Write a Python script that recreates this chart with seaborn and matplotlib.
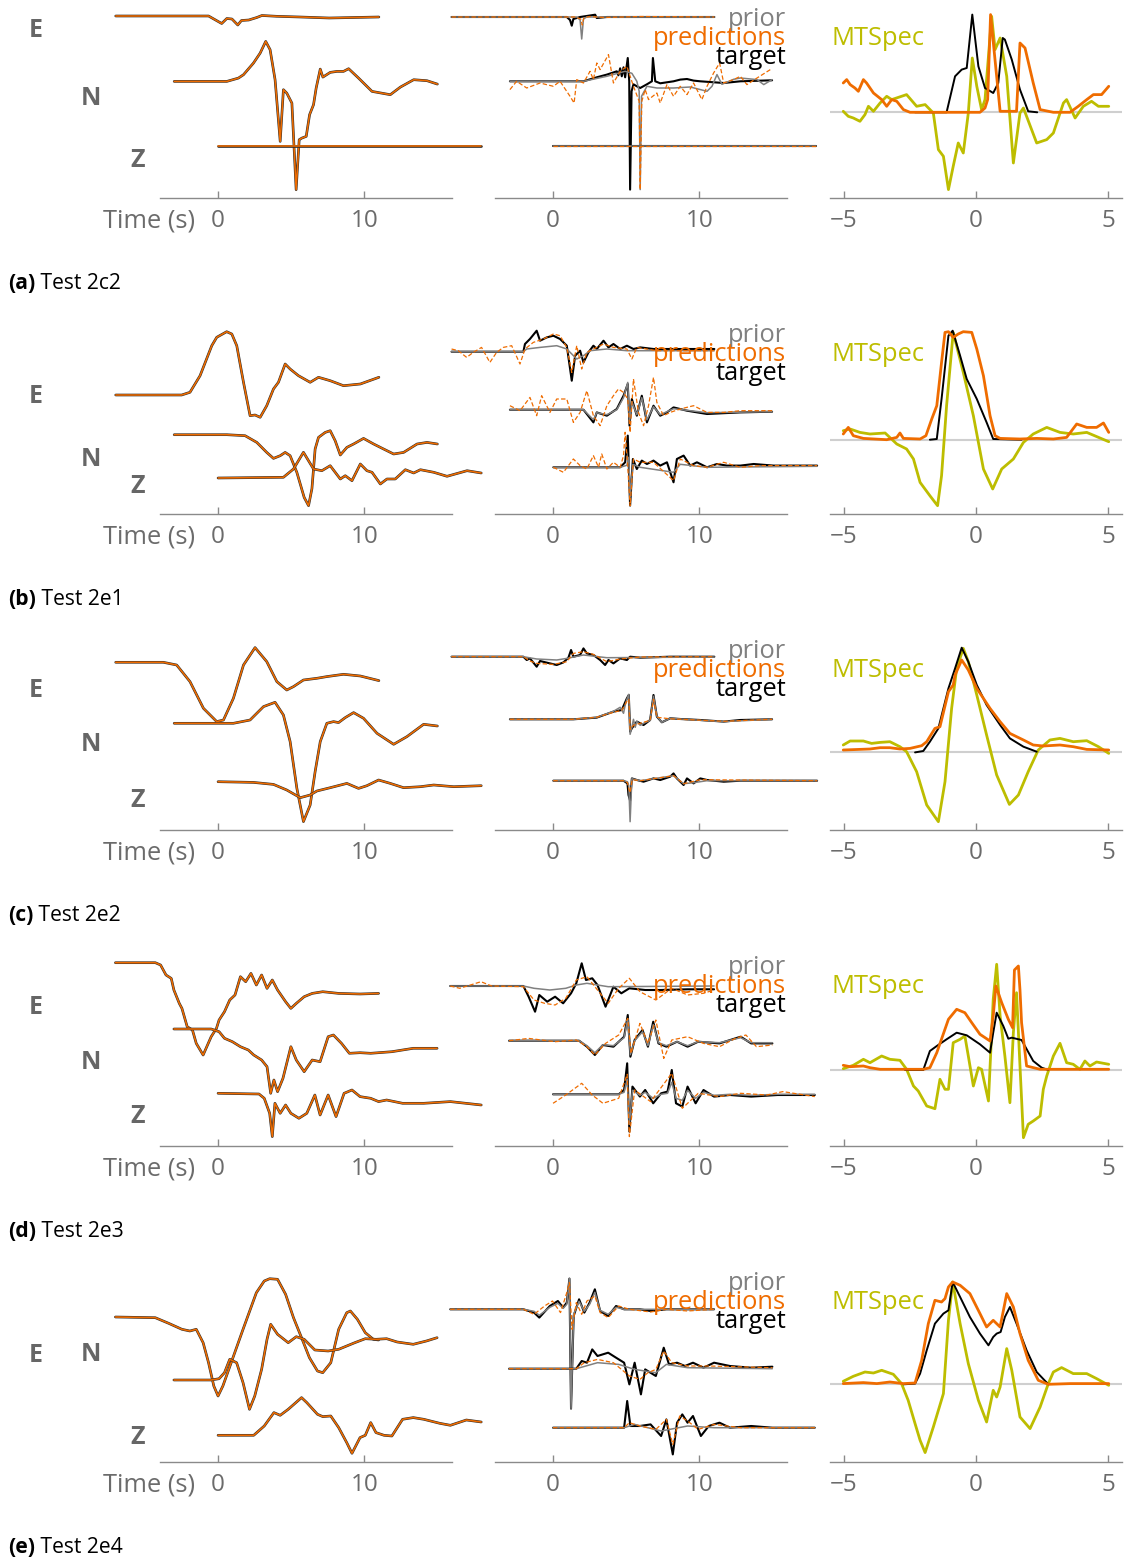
import numpy as np
import matplotlib
matplotlib.use("Agg")
import matplotlib.pyplot as plt
from matplotlib.transforms import blended_transform_factory
import seaborn as sns

# ---------------------------------------------------------------------------
# Waveforms: (time in s, amplitude) pairs. Amplitudes are relative to each
# trace's own zero line; the stacking offsets are kept separately below.
# ---------------------------------------------------------------------------
captions = ["Test 2c2", "Test 2e1", "Test 2e2", "Test 2e3", "Test 2e4"]
components = ["E", "N", "Z"]

# ----- (a) Test 2c2 -----
a_wave_E = [(-7.0, 0), (-0.65, 0), (0.25, -7.5), (0.6, -2.5), (0.95, -3), (1.35, -9), (1.6, -4.5), (2.1, -4),
            (2.65, -1.5), (3.0, 0.5), (4.0, -0.3), (5.6, -1), (7.6, -2), (11.0, -1)]
a_wave_N = [(-3.0, 0), (0.6, 0), (1.39, 3.3), (1.74, 6.7), (2.42, 18.3), (2.88, 28.3), (3.26, 40), (3.56, 31.7),
            (3.9, 1.7), (4.25, -60), (4.47, -8.3), (4.7, -11.7), (5.05, -21.7), (5.34, -108.3), (5.55, -58.3),
            (5.73, -56.7), (6.03, -55), (6.26, -33.3), (6.53, -23.3), (6.71, -6.7), (6.99, 12.3), (7.17, 4.3),
            (7.67, 9), (8.13, 10), (8.58, 10), (8.93, 12.7), (9.61, 3.3), (10.53, -10), (11.78, -13.3),
            (12.47, -5.7), (13.38, 1.7), (14.29, 0.7), (15.0, -2.7)]
a_wave_Z = [(0, 0), (6, 0), (12, 0), (18, 0)]

a_target_E = [(-6.94, 0), (0.94, 0), (1.16, -3), (1.28, -8.7), (1.39, -2), (1.85, 0), (2.88, 2.3), (2.99, -1),
              (3.68, 0), (11.03, 0)]
a_prior_E = [(-6.94, 0), (1.62, 0), (1.85, -3), (1.96, -22), (2.08, -2), (2.3, 0), (11.03, 0)]
a_pred_E = [(-6.94, 0), (1.5, 0), (1.9, -2), (2.0, -8), (2.1, -1), (2.5, 0.5), (3.5, -0.5), (6.0, 0.5), (11.03, 0)]
a_target_N = [(-2.95, 0), (2.08, 0), (2.99, 4), (3.68, 6.7), (4.36, 10), (4.47, 6), (4.59, 13), (4.7, 5),
              (4.82, 14), (4.93, 4), (5.11, 23.3), (5.21, 0), (5.27, -108.3), (5.37, -10), (5.5, -3), (5.73, -5),
              (5.96, -6.7), (6.42, -3), (6.76, 0), (6.83, 23.3), (6.99, 0), (7.33, -2), (8.24, 0), (8.7, 1.7),
              (9.16, 2.3), (9.61, 0.7), (10.07, 0), (11.67, -1.7), (12.81, 0), (14.98, 1)]
a_prior_N = [(-2.95, 0), (2.08, 0), (3.68, 5), (4.93, 10), (5.39, 8), (5.73, 0), (5.89, -10), (5.96, -108.3),
             (6.05, -15), (6.42, -5), (7.1, -6.7), (8.24, -6.7), (9.38, -5.7), (10.53, -10), (10.87, -5),
             (11.21, 6.7), (11.55, -3), (12.35, 2), (12.81, 3.3), (13.95, 1.7), (14.41, -3.3), (14.98, 1.7)]
a_pred_N = [(-2.95, -8.3), (-2.49, 0), (-1.8, -6.7), (-0.89, -1.7), (0.02, -5), (0.48, 0), (1.16, -15),
            (1.44, -21.7), (1.62, 1.7), (2.08, -1.7), (2.53, 10), (2.76, 1.7), (2.99, 18.3), (3.22, 11.7),
            (3.79, 26.7), (4.13, -1.7), (4.59, 10), (5.05, 15), (5.5, -5), (5.89, -20), (5.96, -108.3),
            (6.07, -20), (6.3, -8.3), (6.53, -18.3), (7.1, -11.7), (7.33, -21.7), (7.79, -3.3), (8.24, -15),
            (8.7, -5), (9.16, -13.3), (9.61, -1.7), (10.18, -18.3), (10.53, -5), (10.98, 8.3), (11.39, 18.3),
            (11.67, -1.7), (12.35, 1.7), (12.81, 5), (13.26, -3.3), (13.95, 3.3), (14.86, 11.7)]
a_target_Z = [(0, 0), (18, 0)]
a_prior_Z = [(0, 0), (18, 0)]
a_pred_Z = [(0, 0), (18, 0)]

a_stf_target = [(-2.3, 0), (-1.11, 0), (-0.79, 36), (-0.54, 42.7), (-0.35, 44.3), (-0.14, 97.7), (0.09, 46),
                (0.34, 24.3), (0.65, 19.3), (0.84, 29.3), (1.01, 74.3), (1.09, 72.7), (1.35, 52.7), (1.66, 22.7),
                (1.97, 1), (2.31, 0)]
a_stf_pred = [(-5.01, 29.3), (-4.88, 32.7), (-4.75, 27.7), (-4.57, 24.3), (-4.44, 21), (-4.25, 32.7),
              (-4.13, 29.3), (-3.87, 19.3), (-3.56, 12.7), (-3.37, 6), (-3.18, 12.7), (-2.99, 11), (-2.74, 2.7),
              (-2.49, 0), (0.15, 0), (0.34, 4.3), (0.44, 12.7), (0.55, 97.7), (0.68, 62.7), (0.91, 1), (1.53, 1),
              (1.66, 69.3), (1.85, 64.3), (2.16, 29.3), (2.42, 2.7), (2.92, 0), (3.55, 0), (3.86, 6), (4.18, 12.7),
              (4.43, 17.7), (4.74, 17.7), (5.01, 26)]
a_stf_mtspec = [(-5.01, 1), (-4.82, -4), (-4.63, -5.7), (-4.38, -9), (-4.19, -2.3), (-4.06, 6), (-3.87, 1),
                (-3.62, 9.3), (-3.37, 16), (-3.18, 12.7), (-2.62, 17.7), (-2.24, 6), (-1.92, 7.7), (-1.61, -0.7),
                (-1.42, -37.3), (-1.23, -44), (-1.04, -77.3), (-0.86, -54), (-0.67, -30.7), (-0.48, -40.7),
                (-0.29, -0.7), (-0.14, 54.3), (0.03, 26), (0.21, 2.7), (0.34, 12.7), (0.59, 96), (0.72, 62.7),
                (0.91, 74.3), (1.16, 36), (1.41, -50.7), (1.66, -0.7), (1.79, 4.3), (2.29, -30.7), (2.67, -27.3),
                (2.92, -20.7), (3.3, 9.3), (3.42, 12.7), (3.74, -5.7), (4.05, 6), (4.36, 11), (4.62, 6), (5.01, 6)]

# ----- (b) Test 2e1 -----
b_wave_E = [(-7.0, 0), (-2.49, 0), (-1.92, 2.7), (-1.23, 19.3), (-0.43, 49.3), (-0.09, 57.7), (0.59, 63.3),
            (0.94, 61), (1.28, 49.3), (1.74, 12.7), (2.19, -20.7), (2.53, -20), (2.88, -22.3), (3.33, -10.7),
            (3.79, 6), (4.13, 12.7), (4.59, 31), (4.93, 26), (5.5, 19.3), (6.3, 12.7), (6.87, 17.7), (7.67, 14.3),
            (8.58, 9.3), (9.73, 11), (11.0, 17.7)]
b_wave_N = [(-3.0, 0), (0.6, 0), (1.85, -1), (2.65, -7.7), (3.33, -17.7), (3.79, -23.7), (4.25, -21),
            (4.59, -17.7), (4.93, -21), (5.39, -37.7), (5.89, -62.7), (6.19, -71), (6.42, -54), (6.64, -14.3),
            (6.87, -2.7), (7.33, 2.3), (7.67, 4), (8.01, -6), (8.36, -20.3), (8.81, -12.7), (9.27, -9.3),
            (9.95, -3.7), (10.64, -9.3), (11.32, -14.3), (12.01, -19.3), (12.69, -17.7), (13.61, -9.3),
            (14.29, -7.7), (15.0, -9.3)]
b_wave_Z = [(0, 0), (4.47, 0.7), (5.16, 9), (5.84, 25.7), (6.53, 9), (7.1, 7.3), (7.67, 12.3), (8.36, -1),
            (8.7, 2.3), (9.16, -2.7), (9.73, 14), (10.18, 7.3), (10.53, 5.7), (11.1, -6), (11.55, -1),
            (12.12, -1), (12.81, 8.3), (13.38, 5), (13.84, 8.3), (14.75, 5.7), (15.66, 1.7), (17.03, 7.3),
            (18.0, 5)]

b_target_E = [(-6.94, 0), (-2.03, 0), (-1.92, 7.7), (-1.58, 12.7), (-1.12, 21), (-0.89, 11), (-0.43, 14.3),
              (0.02, 16), (0.48, 12.7), (0.94, 6), (1.28, -29), (1.51, -4), (1.85, 1), (2.08, -10.7),
              (2.42, -0.7), (2.76, 6), (2.99, 2.7), (3.45, 11), (3.79, 4.3), (4.13, 7.7), (4.59, 2.7), (5.05, 6),
              (5.5, 2.7), (5.96, 4.3), (6.87, 2.7), (8.24, 2.7), (11.03, 2.7)]
b_prior_E = [(-6.94, 0), (-2.03, 0), (-1.8, 2.7), (-0.89, 4.3), (0.25, 6), (0.94, 2.7), (1.62, -7.3), (2.08, -4),
             (2.53, 1), (3.68, 2.7), (5.05, 1), (11.03, 1)]
b_pred_E = [(-6.94, 2.7), (-6.48, 1), (-5.91, -5.7), (-5.46, -0.7), (-4.89, 4.3), (-4.32, -10.7), (-3.86, -0.7),
            (-3.4, 4.3), (-2.83, 6), (-2.26, -12.3), (-1.92, 2.7), (-1.35, 9.3), (-0.66, 12.7), (0.02, 17.7),
            (0.48, 16), (0.94, 4.3), (1.28, -20.7), (1.62, 6), (1.96, -17.3), (2.31, -0.7), (2.76, 2.7),
            (3.45, 7.7), (4.13, 4.3), (5.05, 2.7), (5.39, -7.3), (5.73, 4.3), (7.1, 1), (11.03, 1)]
b_target_N = [(-2.95, 0), (2.08, 0), (2.76, -12.7), (2.99, -2.7), (3.68, -6), (4.36, 0.7), (4.82, 14),
              (5.11, 25.7), (5.23, -16), (5.39, 10.7), (5.73, -6), (6.07, 14), (6.42, -12.7), (6.87, 4),
              (7.33, -6), (7.79, -2.7), (8.24, 2.3), (9.16, -1), (10.53, -4.3), (12.81, -2.7), (14.98, -2)]
b_prior_N = [(-2.95, 0), (2.08, 0), (2.76, -10), (2.99, -3), (3.68, -5), (4.36, 0), (4.82, 12), (5.11, 27.3),
             (5.23, -12), (5.39, 8), (5.73, -5), (6.07, 12), (6.42, -10), (6.87, 3), (7.33, -5), (8.24, 1),
             (10.53, -3), (14.98, -2)]
b_pred_N = [(-2.95, 4), (-2.26, -1), (-1.58, 12.3), (-1.12, -6), (-0.78, 14), (-0.21, -2.7), (0.25, 10.7),
            (0.94, 10.7), (1.39, -12.7), (1.85, -2.7), (2.31, 19), (2.76, -6), (3.22, -16), (3.68, 4), (4.13, 14),
            (4.47, 20.7), (4.82, 17.3), (5.11, 10.7), (5.27, -22.7), (5.5, 30.7), (5.84, -2.7), (6.19, -16),
            (6.53, 4), (6.87, 32.3), (7.1, 7.3), (7.56, -6), (8.01, -2.7), (8.7, 0.7), (9.61, 4), (10.53, -2.7),
            (11.67, -2.7), (12.81, -1), (14.98, -1)]
b_target_Z = [(0.02, 0), (4.59, 0), (4.93, 5), (5.11, 31.7), (5.27, -38.3), (5.46, 8.3), (5.73, -1.7),
              (6.07, 6.7), (6.42, 3.3), (6.87, 6.7), (7.33, 1.7), (7.79, 5), (8.24, -15), (8.47, 8.3),
              (8.93, 11.7), (9.38, 1.7), (9.84, 5), (10.53, 0), (11.21, 3.3), (11.89, 1.7), (12.81, 1.7),
              (13.72, 3.3), (15.09, 1.7), (18.06, 1.7)]
b_prior_Z = [(0.02, 0), (4.59, 0), (5.05, 2), (5.18, 10), (5.27, -30), (5.46, 3), (5.96, 0), (8.24, -5),
             (8.7, 3), (10.53, 0), (18.06, 1)]
b_pred_Z = [(0.02, 0), (0.71, -5), (1.39, 8.3), (1.85, 1.7), (2.31, -1.7), (2.76, 11.7), (3.11, 0), (3.33, 13.3),
            (3.68, -1.7), (4.13, 5), (4.59, 0), (4.82, 11.7), (4.93, 35), (5.09, 5), (5.27, -38.3), (5.5, 8.3),
            (5.96, 5), (6.87, 5), (8.24, -13.3), (8.7, 8.3), (9.61, 1.7), (10.53, 0), (11.67, 5), (12.81, 0),
            (14.18, 1.7), (18.06, 1.7)]

b_stf_target = [(-1.74, 0), (-1.48, 0.7), (-1.3, 40.7), (-1.04, 104), (-0.88, 109), (-0.6, 84), (-0.35, 60.7),
                (0.03, 40.7), (0.4, 17.3), (0.65, 0.7), (1.72, 0)]
b_stf_pred = [(-5.01, 5.7), (-4.82, 12.3), (-4.63, 4), (-4.25, 1.3), (-3.37, 0), (-2.99, 2.3), (-2.87, 6.7),
              (-2.74, 1.3), (-2.11, 0.7), (-1.89, 4), (-1.67, 20.7), (-1.48, 34), (-1.3, 77.3), (-1.17, 107.3),
              (-1.04, 108), (-0.86, 102.3), (-0.67, 105.7), (-0.48, 108), (-0.16, 107.3), (0.03, 90.7),
              (0.28, 64), (0.53, 24), (0.72, 4), (0.91, 1.3), (1.66, 0.7), (2.29, 1.3), (2.92, 0.7), (3.42, 2.3),
              (3.8, 15.7), (4.18, 12.3), (4.55, 12.3), (4.81, 16.7), (5.01, 7.3)]
b_stf_mtspec = [(-5.01, 9), (-4.75, 10.7), (-4.38, 7.3), (-4.0, 5.7), (-3.43, 6.7), (-2.99, -4.3), (-2.62, -9.3),
                (-2.36, -19.3), (-2.11, -42.7), (-1.74, -56), (-1.45, -66), (-1.3, -36), (-1.11, 34),
                (-0.86, 107.3), (-0.48, 67.3), (-0.1, 24), (0.28, -29.3), (0.63, -49.3), (0.97, -29.3),
                (1.41, -19.3), (1.79, -2.7), (2.16, 5.7), (2.67, 12.3), (3.17, 7.3), (3.67, 5.7), (4.18, 7.3),
                (5.01, -2)]

# ----- (c) Test 2e2 -----
c_wave_E = [(-7.0, 0), (-3.74, 0), (-2.83, -2.7), (-1.92, -19.3), (-1.0, -46), (-0.09, -59.3), (0.37, -57.7),
            (1.05, -36), (1.74, -2.7), (2.53, 14.7), (3.33, 0.7), (4.02, -19.3), (4.7, -27.7), (5.16, -24.3),
            (5.84, -17.7), (6.76, -16), (7.44, -14.3), (8.58, -12), (9.73, -13.7), (11.0, -18.3)]
c_wave_N = [(-3.0, 0), (1.05, 0), (2.19, 3.3), (3.11, 16.7), (3.9, 21), (4.47, 8.3), (4.93, -18.3), (5.39, -65),
            (5.84, -98.3), (6.3, -81.7), (6.64, -48.3), (6.99, -18.3), (7.44, 0), (7.9, 1.7), (8.24, 0.7),
            (8.7, 5.7), (9.27, 10.7), (9.95, 5), (10.87, -10), (12.01, -21), (12.92, -13.3), (14.06, -1),
            (15.0, -2.7)]
c_wave_Z = [(0, 0), (2.42, -0.7), (3.79, -2.7), (4.7, -8.3), (5.62, -16), (6.3, -13.3), (6.76, -9.3),
            (7.67, -6), (8.81, -1.7), (9.61, -6.7), (10.18, -4), (10.98, 1.7), (11.78, -1.7), (12.69, -6),
            (13.84, -5), (14.75, -3.3), (16.12, -5), (18.0, -4)]

c_target_E = [(-6.94, 0), (-2.03, 0), (-1.8, -3.3), (-1.58, -1.7), (-1.12, -10), (-0.89, -4.3), (-0.21, -6.7),
              (0.25, -8.3), (0.71, -5.7), (1.05, -1), (1.23, 6.7), (1.39, 0), (1.85, 1.7), (2.08, 8.3),
              (2.31, 3.3), (2.76, 1.7), (3.22, -3.3), (3.56, -8.3), (3.79, -3.3), (4.13, -6.7), (4.59, -1.7),
              (5.05, -3.3), (5.27, 0), (5.96, -1), (8.01, 0), (11.03, 0)]
c_prior_E = [(-6.94, 0), (-2.03, 0), (-1.12, -2.3), (0.25, -3.3), (0.94, -1.7), (2.08, 1.7), (3.68, -1),
             (11.03, -0.3)]
c_pred_E = [(-6.94, 0), (-2.03, 0), (-1.58, -4.3), (-1.12, -6.7), (0.02, -7.7), (0.94, -5), (1.39, 3.3),
            (2.08, 5), (2.76, 2.3), (3.68, -5), (4.59, -2.3), (5.96, -0.3), (11.03, 0)]
c_target_N = [(-2.95, 0), (1.39, 0), (2.99, 1.7), (4.13, 7.7), (4.7, 9.3), (5.05, 21), (5.18, 24.3),
              (5.27, -12.3), (5.39, -9), (5.73, -2.3), (6.19, -5.7), (6.64, -0.7), (6.87, 24.3), (7.1, 2.7),
              (7.44, -3), (8.01, 1), (8.7, 0.3), (10.07, -0.7), (11.67, -2.3), (12.81, -0.7), (14.98, 0)]
c_prior_N = [(-2.95, 0), (1.39, 0), (2.99, 2), (4.13, 8), (4.59, 12), (4.82, 6), (4.93, 14), (5.05, 20),
             (5.18, 25), (5.27, -15), (5.39, -8), (5.5, 0), (5.62, -8), (5.73, -2), (5.96, -6), (6.19, -4),
             (6.64, -1), (6.87, 23), (7.1, 3), (7.44, -3), (8.01, 1), (10.07, -1), (11.67, -2.3), (14.98, 0)]
c_pred_N = [(-2.95, 0), (1.39, 0), (2.99, 2), (4.13, 7), (4.7, 9), (5.05, 18), (5.18, 20), (5.27, -10),
            (5.5, -6), (5.96, -4), (6.64, -1), (6.87, 20), (7.1, 2), (8.01, 0.5), (11.67, -2), (14.98, 0)]
c_target_Z = [(0.02, 0), (4.82, 0), (5.09, -2.7), (5.16, -14.3), (5.27, -20), (5.39, 2.3), (5.73, 0.7),
              (6.19, -1), (6.87, 2.3), (7.33, 0.7), (8.01, 4), (8.24, 7.3), (8.47, 2.3), (8.93, -4.3),
              (9.16, 2.3), (9.61, -2.7), (10.07, 2.3), (10.53, 0.7), (11.67, -1), (12.81, 0), (18.06, 0)]
c_prior_Z = [(0.02, 0), (4.82, 0), (5.09, -1), (5.18, -5), (5.27, -41), (5.39, 2), (5.96, 0), (8.24, 5),
             (8.93, -3), (9.61, -2), (10.53, 0), (18.06, 0)]
c_pred_Z = [(0.02, 0), (4.82, 0), (5.09, -2), (5.18, -8), (5.27, -12), (5.41, 1), (5.96, 0), (8.24, 5),
            (8.93, -3), (10.07, 1), (18.06, 0)]

c_stf_target = [(-2.3, -0.7), (-1.99, 0.7), (-1.74, 10), (-1.42, 23.3), (-1.04, 63.3), (-0.79, 83.3),
                (-0.54, 104), (-0.29, 90), (0.03, 66.7), (0.4, 46.7), (0.91, 26.7), (1.28, 13.3), (1.79, 5),
                (2.29, 0)]
c_stf_pred = [(-5.01, 1.7), (-4.0, 2.7), (-3.62, 4), (-3.25, 4), (-2.87, 2.7), (-2.49, 3.3), (-2.05, 6),
              (-1.86, 10), (-1.55, 23.3), (-1.36, 25), (-1.04, 60), (-0.86, 66.7), (-0.79, 76.7), (-0.54, 91.7),
              (-0.29, 81.7), (0.03, 63.3), (0.53, 43.3), (0.91, 30), (1.28, 18.3), (1.79, 11.7), (2.16, 6.7),
              (2.54, 5.7), (3.17, 6.7), (3.67, 5), (4.18, 2.3), (5.01, 1.7)]
c_stf_mtspec = [(-5.01, 6.7), (-4.75, 10.7), (-4.25, 10.7), (-3.94, 8.3), (-3.62, 9.3), (-3.25, 10), (-2.87, 5),
                (-2.62, 0), (-2.24, -20), (-1.86, -53.3), (-1.42, -70), (-1.17, -30), (-0.92, 43.3),
                (-0.73, 83.3), (-0.48, 103.3), (-0.29, 90), (0.03, 56.7), (0.4, 16.7), (0.78, -23.3),
                (1.26, -52.7), (1.6, -43.3), (1.97, -20), (2.35, 1.7), (2.79, 11.7), (3.17, 13.3), (3.67, 10),
                (4.18, 11), (4.62, 5), (5.01, -1.7)]

# ----- (d) Test 2e3 -----
d_wave_E = [(-7.02, 0), (-4.29, 0), (-3.93, -2.3), (-3.56, -12.3), (-3.2, -15.7), (-3.02, -27.3), (-2.65, -40.7),
            (-2.47, -45.7), (-2.11, -64), (-1.75, -67.3), (-1.49, -80.7), (-1.02, -92.3), (-0.47, -74),
            (-0.11, -65.7), (0.07, -57.3), (0.44, -49), (0.8, -37.3), (1.16, -32.3), (1.53, -14), (1.89, -19),
            (2.25, -10.7), (2.62, -22.3), (2.98, -12.3), (3.35, -25.7), (3.71, -17.3), (4.07, -27.3), (4.62, -39),
            (4.98, -45.7), (5.35, -40.7), (5.89, -34), (6.44, -30.7), (7.16, -29), (8.25, -30.7), (9.71, -31.3),
            (10.98, -30.7)]
d_wave_N = [(-3.02, 0), (-0.47, 0), (0.07, -2.7), (0.44, -9.3), (0.98, -12.7), (1.53, -17.7), (2.07, -21),
            (2.44, -26), (2.98, -31), (3.35, -37.7), (3.6, -64.3), (3.82, -51), (4.07, -62.7), (4.44, -49.3),
            (4.98, -17.7), (5.35, -31), (5.89, -42.7), (6.44, -31), (6.98, -32.7), (7.53, -7.7), (7.89, -6),
            (8.44, -14.3), (8.98, -24.3), (9.71, -23.7), (10.44, -24.3), (11.89, -22.7), (13.35, -19.3),
            (14.98, -19.3)]
d_wave_Z = [(0, 0), (2.8, -0.7), (3.16, -5), (3.53, -20), (3.71, -43.3), (3.89, -10), (4.25, -20), (4.62, -11.7),
            (4.98, -20), (5.53, -25), (6.07, -20), (6.62, -1.7), (6.98, -21.7), (7.53, -1.7), (8.07, -23.3),
            (8.62, 0), (9.16, 3.3), (9.71, -3.3), (10.44, -5), (10.98, -8.3), (11.53, -6.7), (12.62, -10),
            (14.07, -10), (15.89, -8.3), (18.0, -11.7)]

d_target_E = [(-7.03, 0), (-2.03, 0), (-1.67, -10.7), (-1.23, -25.7), (-0.94, -9), (-0.4, -15.7), (0.14, -10.7),
              (0.69, -17.3), (1.23, -7.3), (1.59, 2.7), (1.96, 22.7), (2.25, 6), (2.68, 7.7), (3.04, 1),
              (3.59, -20.7), (4.13, -0.7), (4.67, -7.3), (5.22, -2.3), (6.3, -4), (7.39, -4), (9.2, -3.3),
              (11.01, -3.3)]
d_prior_E = [(-7.03, 0), (-2.03, 0), (-1.3, -2.3), (-0.22, -4), (0.87, -2.3), (1.59, 1), (2.32, 2.7),
             (3.77, -0.7), (11.01, 0)]
d_pred_E = [(-7.03, 0), (-6.38, -2.3), (-5.65, 1), (-4.93, 4.3), (-4.2, 0), (-2.03, -0.7), (-1.3, -14),
            (-0.58, -17.3), (0.14, -19), (0.87, -12.3), (1.59, 6), (2.32, 9.3), (3.04, -4), (3.77, -17.3),
            (4.49, -2.3), (5.22, 7.7), (5.94, -5.7), (7.03, -14), (8.12, -2.3), (9.2, -9), (10.29, -7.3),
            (11.01, -4)]
d_target_N = [(-3.01, 0), (1.78, 0), (2.32, -6), (2.86, -14.3), (3.41, -4.3), (4.13, -6), (4.86, 4), (5.11, 25.7),
              (5.29, -16), (5.58, 0.7), (6.12, 10.7), (6.49, -6), (6.85, 19), (7.21, -2.7), (7.75, -6),
              (8.48, -1), (9.2, -6), (9.93, -1), (11.38, -2.7), (12.83, 4), (13.55, -2.7), (15.0, -2.7)]
d_prior_N = [(-3.01, 0), (1.78, 0), (2.32, -5), (2.86, -12), (3.41, -4), (4.13, -5), (4.86, 3), (5.11, 22),
             (5.29, -14), (5.58, 0), (6.12, 9), (6.49, -5), (6.85, 16), (7.21, -2), (7.75, -5), (8.48, -1),
             (9.2, -5), (9.93, -1), (11.38, -2), (12.83, 3), (13.55, -2), (15.0, -2)]
d_pred_N = [(-3.01, 0), (-1.67, 2.3), (0.14, -1), (1.59, 0.7), (2.32, -6), (2.86, -14.3), (3.59, -2.7),
            (4.49, 5.7), (5.11, 22.3), (5.33, -12.7), (5.94, 17.3), (6.49, -2.7), (7.03, 20.7), (7.57, -17.7),
            (8.12, 0.7), (9.2, 4), (10.29, -2.7), (11.38, -6), (12.46, 2.3), (13.19, 5.7), (13.91, -6),
            (15.0, -4.3)]
d_target_Z = [(0, 0), (4.49, 0), (4.86, 4.3), (5.07, 31), (5.22, -37.3), (5.43, 7.7), (5.94, -2.3), (6.3, 4.3),
              (6.85, -9), (7.39, 1), (7.83, 2.7), (8.12, 24.3), (8.41, -9), (8.84, -12.3), (9.2, 7.7),
              (9.75, -9), (10.29, 4.3), (11.01, -2.3), (12.1, -0.7), (13.55, -2.3), (15.36, -0.7), (17.9, -0.7)]
d_prior_Z = [(0, 0), (4.49, 0), (4.86, 2), (5.07, 15), (5.22, -30), (5.43, 4), (5.94, -1), (6.3, 2), (6.85, -4),
             (7.39, 0), (7.83, 1), (8.12, 12), (8.41, -4), (8.84, -6), (9.2, 4), (9.75, -4), (10.29, 2),
             (11.01, -1), (12.1, 0), (13.55, -1), (15.36, 0), (17.9, 0)]
d_pred_Z = [(0, -9), (0.87, -0.7), (1.96, 11), (2.68, -0.7), (3.41, -9), (4.49, -4), (5.07, 20), (5.22, -42.3),
            (5.58, 4.3), (6.67, -7.3), (8.12, 21), (8.84, -14), (9.93, 1), (11.38, -2.3), (12.83, 1),
            (14.64, -0.7), (15.72, 2.7), (17.9, -2.3)]

d_stf_target = [(-2.68, 0), (-1.99, 0), (-1.74, 19), (-1.48, 24), (-1.11, 30.7), (-0.73, 37.3), (-0.35, 34.7),
                (0.15, 25.7), (0.53, 17.3), (0.65, 37.3), (0.78, 57.3), (1.03, 44), (1.22, 31.3), (1.35, 32.3),
                (1.72, 30), (2.16, 9), (2.48, 2.3), (2.73, 0)]
d_stf_pred = [(-5.01, 4.7), (-4.75, 3.3), (-4.25, 4), (-4.0, 2.3), (-3.62, 0.7), (-1.99, 0.7), (-1.74, 2.3),
              (-1.48, 17.3), (-1.04, 50.7), (-0.73, 60.7), (-0.42, 57.3), (-0.16, 47.3), (0.15, 35.7),
              (0.53, 29), (0.65, 54), (0.75, 84), (0.97, 67.3), (1.22, 50.7), (1.38, 42.3), (1.45, 100),
              (1.6, 104), (1.66, 80), (1.72, 47.3), (1.91, 4), (2.42, 0.7), (5.01, 0.7)]
d_stf_mtspec = [(-5.01, 1.3), (-4.63, 4.7), (-4.25, 10.7), (-4.0, 7.3), (-3.56, 14), (-3.25, 10.7), (-2.87, 9.7),
                (-2.62, 0.7), (-2.36, -16), (-2.18, -21), (-1.86, -36), (-1.55, -38.7), (-1.36, -9.3),
                (-1.17, -19.3), (-1.04, -19.3), (-0.86, 27.3), (-0.6, 30.7), (-0.42, 34), (-0.29, 14),
                (-0.1, -16), (0.09, 2.3), (0.21, 0.7), (0.47, -31), (0.65, 70.7), (0.78, 105.7), (0.91, 54),
                (1.09, 14), (1.28, -32.7), (1.41, 37.3), (1.53, 77.3), (1.66, 4), (1.79, -67.7), (1.97, -54.3),
                (2.16, -51), (2.42, -46), (2.54, -19.3), (2.67, -6), (2.92, 14), (3.17, 26.7), (3.42, 7.3),
                (3.67, 5.7), (3.92, 0.7), (4.11, 9), (4.3, 4), (4.55, 8), (5.01, 5.7)]

# ----- (e) Test 2e4 -----
e_wave_E = [(-7.02, 0), (-4.29, -0.7), (-3.38, -6.3), (-2.47, -12.3), (-1.93, -14), (-1.49, -12.3),
            (-1.02, -25.7), (-0.65, -45.7), (-0.29, -69), (0, -79), (0.33, -69), (0.98, -42.3), (1.71, -12.3),
            (2.62, 24.3), (3.16, 36), (3.53, 38.3), (4.07, 37.7), (4.62, 22.7), (5.16, -0.7), (5.71, -20.7),
            (6.25, -40.7), (6.8, -54), (7.16, -55.7), (7.71, -45.7), (8.25, -12.3), (8.8, 4.3), (9.05, 6),
            (9.53, -2.3), (10.07, -15.7), (10.62, -22.3), (10.98, -23)]
e_wave_N = [(-3.02, 0), (-0.47, 0), (0.07, 1.3), (0.44, 7.3), (0.8, 20.7), (1.27, 17.3), (1.71, -2.7),
            (2.15, -29.3), (2.51, -16), (2.98, 10.7), (3.35, 40.7), (3.6, 55.7), (4.07, 45.7), (4.8, 37.3),
            (5.35, 43.3), (5.89, 40.7), (6.62, 30), (7.53, 29), (8.25, 30.7), (9.35, 37.3), (10.07, 41.3),
            (10.8, 40.7), (11.53, 41.3), (12.25, 38), (13.35, 35.7), (14.25, 39), (14.98, 42.3)]
e_wave_Z = [(0, 0), (2.44, 0), (3.16, 9.3), (3.82, 22.7), (4.25, 20), (4.8, 26), (5.71, 37.7), (6.07, 32.7),
            (6.8, 21), (7.16, 18.7), (7.71, 19.3), (8.25, 7.7), (8.8, -7.3), (9.16, -18), (9.71, -2.3),
            (10.07, 0), (10.44, 12.7), (10.8, 2.7), (11.35, 0), (11.89, -0.7), (12.62, 16), (13.35, 17.7),
            (14.07, 16), (15.16, 12), (15.89, 10), (16.98, 15.3), (18.0, 13.3)]

e_target_E = [(-7.03, 0), (-2.03, 0), (-1.3, -3.3), (-0.94, -8.3), (-0.22, 3.3), (0.33, 8.3), (0.69, 1.7),
              (0.94, 6.7), (1.12, 30.7), (1.23, -99.3), (1.41, -6.7), (1.78, 10), (2.14, -3.3), (2.5, 6.7),
              (2.86, 20), (3.22, -1.7), (3.77, -6.7), (4.31, 3.3), (4.86, 0), (5.94, 0), (6.67, -1.7), (7.75, 0),
              (11.01, 0)]
e_prior_E = [(-7.03, 0), (-2.03, 0), (-1.3, -2), (-0.94, -6), (-0.22, 2), (0.33, 6), (0.69, 1), (0.94, 5),
             (1.12, 30.7), (1.23, -99.3), (1.41, -5), (1.78, 8), (2.14, -2), (2.5, 5), (2.86, 17), (3.22, -1),
             (3.77, -5), (4.31, 2), (4.86, 0), (11.01, 0)]
e_pred_E = [(-7.03, 0), (-2.03, 0), (-1.3, -5), (-0.58, 3.3), (-0.04, 8.3), (0.51, -3.3), (0.94, 16.7),
            (1.12, 26.7), (1.3, -20), (1.59, 6.7), (1.96, -5), (2.32, 8.3), (2.86, 13.3), (3.22, -3.3),
            (3.77, -8.3), (4.49, 3.3), (5.22, 0), (6.67, -2.7), (7.75, 0), (9.2, -1.7), (11.01, 0)]
e_target_N = [(-3.01, 0), (1.59, 0), (1.96, 7.7), (2.32, 6), (2.68, 19.3), (3.04, 12.7), (3.77, 16), (4.31, 11),
              (4.86, 6), (5.22, -15.7), (5.58, 6), (6.01, -25.7), (6.3, -0.7), (7.03, -7.3), (7.57, 21),
              (7.93, 4.3), (8.48, 6), (9.02, 2.7), (9.57, 6), (10.29, 1), (11.01, 6), (12.1, 2.7), (13.55, 1),
              (15.0, 2)]
e_prior_N = [(-3.01, 0), (1.59, 0), (3.04, 6), (4.49, 4.3), (5.58, -0.7), (7.03, -4), (7.75, 4.3), (9.2, 1),
             (15.0, 0)]
e_pred_N = [(-3.01, 0), (1.59, 0), (2.14, 6), (3.04, 9.3), (4.13, 6), (5.22, -7.3), (5.94, -10.7), (6.49, -4),
            (7.03, -0.7), (7.57, 17.7), (8.12, 6), (9.2, 2.7), (10.65, 2.7), (15.0, 1)]
e_target_Z = [(0, 0), (4.86, 0), (5.07, 26.7), (5.29, 1.7), (5.94, 1.7), (6.67, 3.3), (7.39, -8.3), (7.75, 8.3),
              (8.19, -26.7), (8.48, 5), (8.84, 13.3), (9.2, 5), (9.57, 11.7), (10.11, -8.3), (10.65, 1.7),
              (11.38, 5), (12.1, 0), (13.55, 1.7), (15.0, 0), (17.9, 0)]
e_prior_Z = [(0, 0), (4.86, 0), (5.58, 3.3), (7.39, -3.3), (9.2, 1.7), (11.01, 0), (17.9, 0)]
e_pred_Z = [(0, 0), (4.86, 0), (5.22, 5), (5.94, 1.7), (7.03, -1.7), (7.75, 8.3), (8.19, -16.7), (8.66, 11.7),
            (9.2, 6.7), (9.93, -1.7), (11.01, 3.3), (12.83, 0), (17.9, 0)]

e_stf_target = [(-2.74, 0), (-2.3, 0.7), (-2.11, 10.7), (-1.86, 34), (-1.55, 60.7), (-1.23, 70.7), (-1.04, 74),
                (-0.88, 102.3), (-0.6, 87.3), (-0.23, 67.3), (0.15, 50.7), (0.47, 39), (0.65, 47.3), (0.78, 50.7),
                (0.93, 52.3), (1.09, 67.3), (1.28, 77.3), (1.53, 60.7), (1.91, 34), (2.29, 12.3), (2.73, 0)]
e_stf_pred = [(-5.01, 0.7), (-4.25, 1.7), (-3.74, 0.7), (-3.25, 2.3), (-2.74, 0.7), (-2.3, 1.3), (-2.05, 24),
              (-1.8, 60.7), (-1.55, 84), (-1.3, 82.3), (-1.17, 85.7), (-1.04, 97.3), (-0.88, 102.3), (-0.6, 99),
              (-0.23, 90.7), (0.15, 70.7), (0.4, 57.3), (0.65, 64), (0.91, 57.3), (1.16, 90.7), (1.41, 77.3),
              (1.66, 50.7), (1.97, 24), (2.35, 4), (2.73, 0), (3.55, 0.7), (5.01, 0.7)]
e_stf_mtspec = [(-5.01, 3), (-4.63, 8), (-4.19, 12.3), (-3.87, 11.3), (-3.56, 14), (-3.12, 10), (-2.81, 0.7),
                (-2.56, -16), (-2.3, -39.3), (-2.11, -56), (-1.92, -68.3), (-1.61, -42.7), (-1.23, -9.3),
                (-1.04, 64), (-0.88, 102.3), (-0.6, 60.7), (-0.29, 20.7), (0.09, -16), (0.4, -37.7), (0.65, -6),
                (0.78, -12.7), (0.91, -2.7), (1.16, 35.7), (1.35, 14), (1.66, -32.7), (2.04, -44.3),
                (2.42, -22.7), (2.73, 0.7), (2.92, 12.3), (3.23, 16.7), (3.67, 10.7), (4.18, 10.7), (4.55, 5.7),
                (5.01, -1)]

# ---------------------------------------------------------------------------
# Layout of the stacked traces (zero line of each trace, in panel units)
# ---------------------------------------------------------------------------
wave_offsets = {"a": (182, 116.6, 52), "b": (119, 79.3, 36), "c": (167.7, 106.7, 48.3),
                "d": (183.3, 117, 52.7), "e": (145, 82, 26.7)}
mid_offsets = {"a": (181, 116.7, 52.3), "b": (162.3, 104.3, 46.7), "c": (173.3, 110.7, 49.3),
               "d": (160, 105.3, 51.7), "e": (152.7, 93.3, 34.3)}
stf_zero = {"a": 85.7, "b": 74.3, "c": 78.3, "d": 76, "e": 77.7}
label_height = {"a": (170, 101.7, 40), "b": (120, 56.7, 30), "c": (141.7, 87.7, 32.3),
                "d": (141, 86, 31.7), "e": (108.6, 110, 26.7)}
label_time = (-12.47, -8.7, -5.48)

# ---------------------------------------------------------------------------
ORANGE = "#ef6c00"
MTSPEC = "#bdbd00"
GRAY = "#808080"
TXT = "#6b6b6b"

sns.set_theme(style="white")
plt.rcParams["font.family"] = ["Open Sans", "DejaVu Sans"]
plt.rcParams["axes.unicode_minus"] = True

FW, FH = 1127, 1562
PANEL_H = 190
fig = plt.figure(figsize=(FW / 100, FH / 100), dpi=100)
fig.patch.set_facecolor("white")

g = globals()


def series(name):
    return np.asarray(g[name], dtype=float)


def trace(ax, pts, base, **kw):
    sns.lineplot(x=pts[:, 0], y=base + pts[:, 1], ax=ax, sort=False, estimator=None,
                 legend=False, clip_on=False, **kw)


def style_axis(ax, xlim, ticks):
    ax.set_xlim(*xlim)
    ax.set_ylim(0, PANEL_H)
    ax.set_facecolor("none")
    for side in ("left", "right", "top"):
        ax.spines[side].set_visible(False)
    ax.spines["bottom"].set_color("#8a8a8a")
    ax.spines["bottom"].set_linewidth(1.0)
    ax.set_yticks([])
    ax.set_xticks(ticks)
    ax.tick_params(axis="x", direction="in", length=5, width=1.0, color="#8a8a8a",
                   labelsize=17.5, labelcolor=TXT, pad=8, bottom=True)
    ax.set_xlabel("")
    ax.set_ylabel("")


for r, key in enumerate("abcde"):
    y_axis = 198 + 316 * r
    bottom = 1 - y_axis / FH
    ax_w = fig.add_axes([160 / FW, bottom, 292 / FW, PANEL_H / FH])
    ax_m = fig.add_axes([495 / FW, bottom, 292 / FW, PANEL_H / FH])
    ax_s = fig.add_axes([830 / FW, bottom, 292 / FW, PANEL_H / FH])

    # left: low-passed traces, target under prediction
    for i, comp in enumerate(components):
        pts = series(f"{key}_wave_{comp}")
        base = wave_offsets[key][i]
        trace(ax_w, pts, base, color="#2b2b2b", linewidth=1.9)
        trace(ax_w, pts, base, color=ORANGE, linewidth=1.15)
        ax_w.text(label_time[i], label_height[key][i] - 9, comp, ha="center", va="baseline",
                  fontsize=18, fontweight="bold", color="#666666", clip_on=False)

    # middle: broadband traces
    for i, comp in enumerate(components):
        base = mid_offsets[key][i]
        trace(ax_m, series(f"{key}_target_{comp}"), base, color="black", linewidth=1.5)
        trace(ax_m, series(f"{key}_prior_{comp}"), base, color=GRAY, linewidth=1.1)
        trace(ax_m, series(f"{key}_pred_{comp}"), base, color=ORANGE, linewidth=0.9,
              linestyle=(0, (3.5, 1.8)))
    ax_m.text(15.96, 171.6, "prior", ha="right", va="baseline", fontsize=18.4, color=GRAY, zorder=5)
    ax_m.text(15.96, 153.3, "predictions", ha="right", va="baseline", fontsize=18.4, color=ORANGE, zorder=5)
    ax_m.text(15.96, 134.3, "target", ha="right", va="baseline", fontsize=18.4, color="black", zorder=5)

    # right: source time functions
    z0 = stf_zero[key]
    ax_s.axhline(z0, color="#cfcfcf", linewidth=1.5, zorder=1)
    trace(ax_s, series(f"{key}_stf_mtspec"), z0, color=MTSPEC, linewidth=2.0)
    trace(ax_s, series(f"{key}_stf_target"), z0, color="black", linewidth=1.4)
    trace(ax_s, series(f"{key}_stf_pred"), z0, color=ORANGE, linewidth=2.0)
    ax_s.text(-5.45, 153.3, "MTSpec", ha="left", va="baseline", fontsize=18.4, color=MTSPEC)

    style_axis(ax_w, (-3.97, 16.0), [0, 10])
    style_axis(ax_m, (-3.97, 16.0), [0, 10])
    style_axis(ax_s, (-5.51, 5.51), [-5, 0, 5])

    tr = blended_transform_factory(ax_w.transData, ax_w.transAxes)
    ax_w.text(-1.55, -29.5 / PANEL_H, "Time (s)", transform=tr, ha="right", va="baseline",
              fontsize=18.4, color=TXT, clip_on=False)

    cap_y = 1 - (y_axis + 91) / FH
    t1 = fig.text(8 / FW, cap_y, f"({key})", fontsize=15.2, fontweight="bold", color="black",
                  ha="left", va="baseline")
    ax_w.annotate(" " + captions[r], xy=(1, 0), xycoords=t1, ha="left", va="bottom",
                  fontsize=15.2, color="black", annotation_clip=False)

fig.savefig("out.png", dpi=100, facecolor="white")
